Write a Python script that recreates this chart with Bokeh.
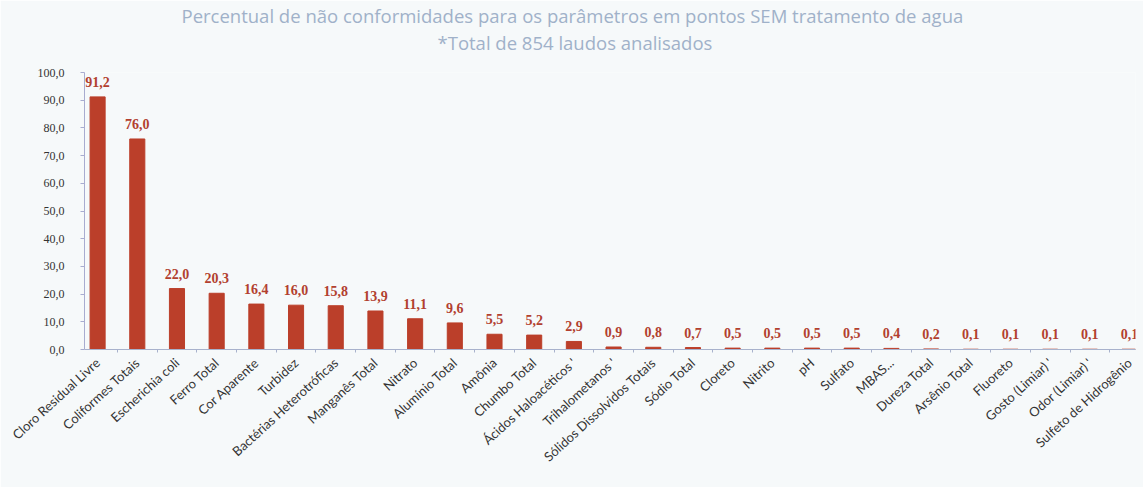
from bokeh.plotting import figure
from bokeh.models import (ColumnDataSource, Range1d, FixedTicker, CustomJSTickFormatter, Title)
from bokeh.embed import file_html
from bokeh.resources import INLINE
from bokeh.core.properties import value

categories = ["Cloro Residual Livre", "Coliformes Totais", "Escherichia coli", "Ferro Total",
              "Cor Aparente", "Turbidez", "Bactérias Heterotróficas", "Manganês Total", "Nitrato",
              "Alumínio Total", "Amônia", "Chumbo Total", "Ácidos Haloacéticos '", "Trihalometanos '",
              "Sólidos Dissolvidos Totais", "Sódio Total", "Cloreto", "Nitrito", "pH", "Sulfato",
              "MBAS...", "Dureza Total", "Arsênio Total", "Fluoreto", "Gosto (Limiar) '",
              "Odor (Limiar) '", "Sulfeto de Hidrogênio"]
values = [91.2, 76.0, 22.0, 20.3, 16.4, 16.0, 15.8, 13.9, 11.1, 9.6, 5.5, 5.2, 2.9,
          0.9, 0.8, 0.7, 0.5, 0.5, 0.5, 0.5, 0.4, 0.2, 0.1, 0.1, 0.1, 0.1, 0.1]
title_line1 = "Percentual de não conformidades para os parâmetros em pontos SEM tratamento de agua"
title_line2 = "*Total de 854 laudos analisados"

xs = list(range(len(categories)))
labels = [f"{v:.1f}".replace(".", ",") for v in values]
src = ColumnDataSource(dict(x=xs, top=values, label=labels))

BG = "#f6f9fa"
p = figure(width=1143, height=487, output_backend="svg", toolbar_location=None,
           x_range=Range1d(-0.33, 26.15), y_range=Range1d(0, 100),
           min_border_left=84, min_border_right=8, min_border_top=72, min_border_bottom=138,
           background_fill_color=BG, border_fill_color=BG, outline_line_color=None)

spacer = Title(text=" ", text_font_size="7px", text_line_height=1.0, standoff=9)
t2 = Title(text=title_line2, align="left", offset=353, text_font="Open Sans", text_font_size="18.5px",
           text_font_style="normal", text_color="#a0b1c9", text_line_height=1.0, standoff=0)
t1 = Title(text=title_line1, align="left", offset=97, text_font="Open Sans", text_font_size="18.5px",
           text_font_style="normal", text_color="#a0b1c9", text_line_height=1.0, standoff=0)
p.add_layout(spacer, "above")
p.add_layout(t2, "above")
p.add_layout(t1, "above")

p.vbar(x="x", top="top", width=0.38, source=src, fill_color="#bb3f2a", line_color="#bb3f2a")
p.text(x="x", y="top", text="label", source=src, text_align="center", text_baseline="bottom",
       y_offset=-10, text_font=value("Liberation Serif"), text_font_size="14px",
       text_font_style="bold", text_color="#b2402f")

p.xgrid.visible = False
p.ygrid.visible = False

xa = p.xaxis[0]
xa.ticker = FixedTicker(ticks=xs, minor_ticks=[i + 0.5 for i in range(-1, len(xs))])
xa.major_label_overrides = {i: c for i, c in enumerate(categories)}
xa.major_label_orientation = 0.74
xa.major_label_text_font = "Lato"
xa.major_label_text_font_size = "13px"
xa.major_label_text_color = "#333333"
xa.major_tick_line_color = None
xa.minor_tick_line_color = "#a8b2cc"
xa.minor_tick_out = 3
xa.minor_tick_in = 0
xa.axis_line_color = "#a8b2cc"
xa.major_label_standoff = 5

ya = p.yaxis[0]
ya.ticker = FixedTicker(ticks=list(range(0, 101, 10)))
ya.formatter = CustomJSTickFormatter(code="return tick.toFixed(1).replace('.', ',');")
ya.major_label_text_font = "Liberation Serif"
ya.major_label_text_font_size = "12px"
ya.major_label_text_color = "#333333"
ya.axis_line_color = "#a8acd0"
ya.major_tick_line_color = "#a8acd0"
ya.major_tick_out = 4
ya.major_tick_in = 0
ya.minor_tick_line_color = None
ya.major_label_standoff = 16

open("out.html", "w").write(file_html(p, INLINE))
